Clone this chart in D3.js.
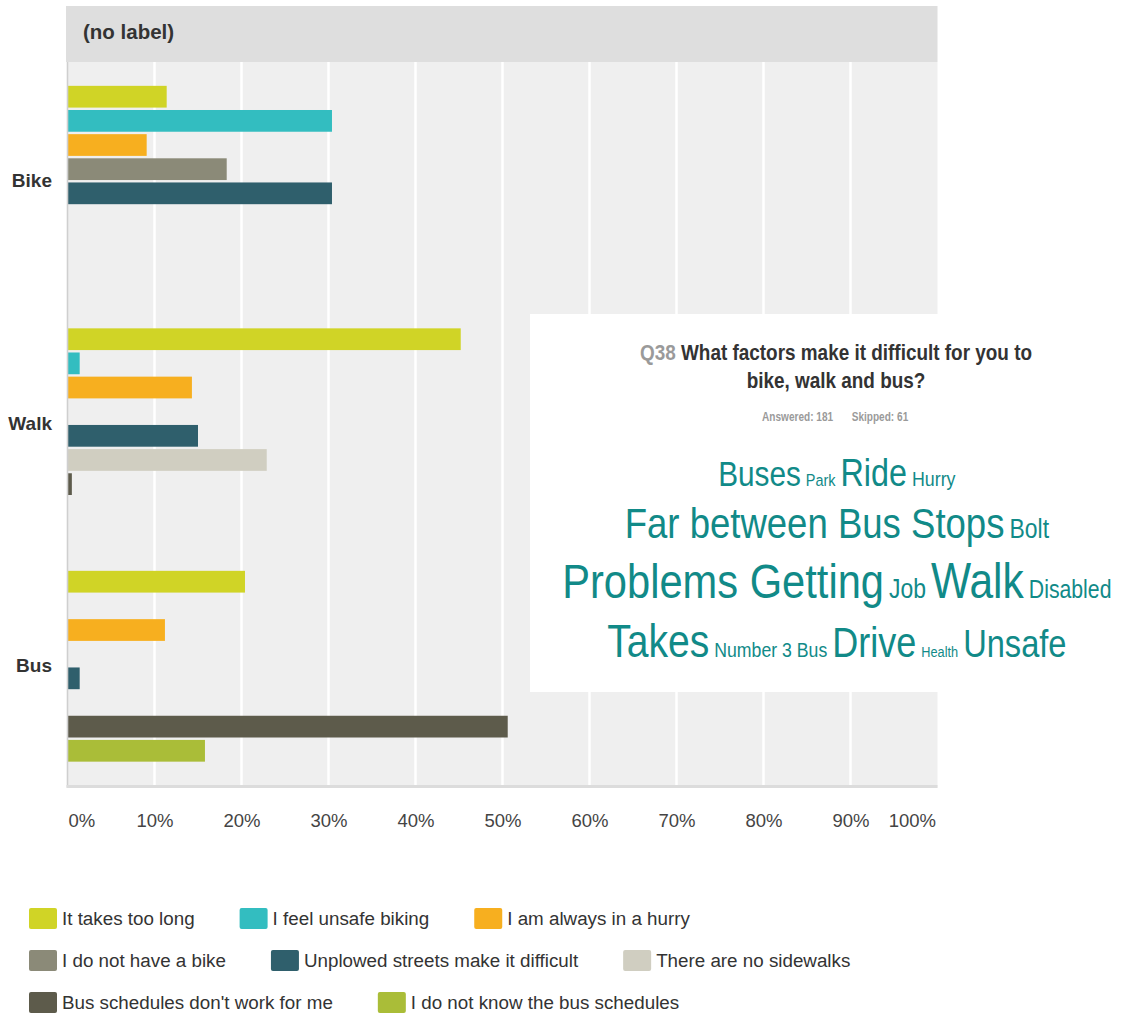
<!DOCTYPE html>
<html><head><meta charset="utf-8">
<script src="https://cdn.jsdelivr.net/npm/d3@7"></script>
<style>
body{margin:0;background:#fff}
svg{display:block}
text{font-family:'Liberation Sans',Arial,Helvetica,sans-serif}
</style>
</head><body>
<svg id="chart" width="1134" height="1018"></svg>
<script>
// ---------- data ----------
const categories = ["Bike", "Walk", "Bus"];
const seriesNames = [
  "It takes too long",
  "I feel unsafe biking",
  "I am always in a hurry",
  "I do not have a bike",
  "Unplowed streets make it difficult",
  "There are no sidewalks",
  "Bus schedules don't work for me",
  "I do not know the bus schedules"
];
const seriesColors = ["#d0d426", "#33bdc0", "#f7af1f", "#8b8a78", "#2f5f6c", "#d0cec1", "#5d5b4b", "#aabd38"];
const bikeValues = [11.4, 30.4, 9.1, 18.3, 30.4, 0, 0, 0];
const walkValues = [45.2, 1.4, 14.3, 0, 15.0, 22.9, 0.5, 0];
const busValues  = [20.4, 0, 11.2, 0, 1.4, 0, 50.6, 15.8];
const xTickValues = [0, 10, 20, 30, 40, 50, 60, 70, 80, 90, 100];
const xTickLabels = ["0%", "10%", "20%", "30%", "40%", "50%", "60%", "70%", "80%", "90%", "100%"];
const headerLabel = "(no label)";
const questionNumber = "Q38";
const questionLines = ["What factors make it difficult for you to", "bike, walk and bus?"];
const answeredCount = 181;
const skippedCount = 61;
const cloudRow1 = [["Buses", 6.25], ["Park", 1.75], ["Ride", 7], ["Hurry", 2.75]];
const cloudRow2 = [["Far between Bus Stops", 8.25], ["Bolt", 4.25]];
const cloudRow3 = [["Problems Getting", 9.75], ["Job", 4.25], ["Walk", 10], ["Disabled", 3.75]];
const cloudRow4 = [["Takes", 9.0], ["Number 3 Bus", 2.7], ["Drive", 8.1], ["Health", 1.25], ["Unsafe", 7.1]];

const valuesByCategory = {Bike: bikeValues, Walk: walkValues, Bus: busValues};

// ---------- layout ----------
const svg = d3.select("#chart");

const x = d3.scaleLinear().domain([0, 100]).range([67.5, 937.5]);
const y = d3.scaleBand().domain(categories).range([60, 787.5]);
const ySub = d3.scaleBand().domain(seriesNames).range([0, y.bandwidth()])
  .paddingInner(0.1).paddingOuter(1.07);
const color = d3.scaleOrdinal().domain(seriesNames).range(seriesColors);

const plotTop = 62, plotBottom = 787.5;

// header band
svg.append("rect").attr("x", 66).attr("y", 6).attr("width", x(100) - 66).attr("height", plotTop - 6)
  .attr("fill", "#dedede");
svg.append("text").attr("x", 83).attr("y", 39).text(headerLabel)
  .attr("font-weight", "bold").attr("font-size", 20.5).attr("fill", "#333");

// plot background
svg.append("rect").attr("x", x(0)).attr("y", plotTop).attr("width", x(100) - x(0))
  .attr("height", plotBottom - plotTop).attr("fill", "#efefef");

// gridlines
svg.append("g").selectAll("line").data(xTickValues.filter(v => v > 0 && v < 100)).join("line")
  .attr("x1", d => x(d)).attr("x2", d => x(d))
  .attr("y1", plotTop).attr("y2", plotBottom)
  .attr("stroke", "#fff").attr("stroke-width", 2.5);

// bars
const groups = svg.append("g").selectAll("g").data(categories).join("g")
  .attr("transform", d => `translate(0,${y(d)})`);
groups.selectAll("rect")
  .data(c => seriesNames.map((s, i) => ({s, v: valuesByCategory[c][i]})).filter(d => d.v > 0))
  .join("rect")
  .attr("x", x(0))
  .attr("y", d => ySub(d.s))
  .attr("width", d => x(d.v) - x(0))
  .attr("height", ySub.bandwidth())
  .attr("fill", d => color(d.s));

// left axis line & bottom line
svg.append("line").attr("x1", x(0)).attr("x2", x(0)).attr("y1", plotTop).attr("y2", plotBottom)
  .attr("stroke", "#cfcfcf").attr("stroke-width", 1.6);
svg.append("rect").attr("x", x(0) - 1).attr("y", 785).attr("width", x(100) - x(0) + 1).attr("height", 3)
  .attr("fill", "#dcdcdc");

// x axis labels
const xAxis = svg.append("g").attr("transform", "translate(0,786)")
  .call(d3.axisBottom(x).tickValues(xTickValues).tickFormat((d, i) => xTickLabels[i]).tickSize(0).tickPadding(27.7));
xAxis.select(".domain").remove();
xAxis.selectAll("text").attr("font-size", 18.5).attr("fill", "#444")
  .style("font-family", "'Liberation Sans',Arial,sans-serif");
xAxis.selectAll(".tick").filter(d => d === 0).select("text").attr("text-anchor", "start").attr("x", 0.5);
xAxis.selectAll(".tick").filter(d => d === 100).select("text").attr("text-anchor", "end").attr("x", -2);

// y axis labels
const yAxis = svg.append("g").attr("transform", `translate(${x(0)},0)`)
  .call(d3.axisLeft(y).tickSize(0).tickPadding(15.5));
yAxis.select(".domain").remove();
yAxis.selectAll("text").attr("font-size", 19).attr("font-weight", "bold").attr("fill", "#333")
  .style("font-family", "'Liberation Sans',Arial,sans-serif");

// ---------- word cloud panel ----------
const panel = svg.append("g");
panel.append("rect").attr("x", 530).attr("y", 314).attr("width", 1134 - 530).attr("height", 378).attr("fill", "#fff");
const cx = 836;
// condensed look: horizontal squeeze around the panel centre
const squeeze = k => `translate(${cx},0) scale(${k},1) translate(${-cx},0)`;

const titleG = panel.append("g").attr("transform", squeeze(0.88));
const t1 = titleG.append("text").attr("x", cx).attr("y", 360).attr("text-anchor", "middle")
  .attr("font-weight", "bold").attr("font-size", 21.5);
t1.append("tspan").attr("fill", "#9a9a9a").text(questionNumber + " ");
t1.append("tspan").attr("fill", "#333").text(questionLines[0]);
titleG.append("text").attr("x", cx).attr("y", 388).attr("text-anchor", "middle")
  .attr("font-weight", "bold").attr("font-size", 21.5).attr("fill", "#333")
  .text(questionLines[1]);
const t3 = panel.append("g").attr("transform", squeeze(0.84)).append("text")
  .attr("x", cx - 1).attr("y", 421).attr("text-anchor", "middle")
  .attr("font-weight", "bold").attr("font-size", 12).attr("fill", "#9a9a9a");
t3.append("tspan").text("Answered: " + answeredCount);
t3.append("tspan").attr("dx", 22).text("Skipped: " + skippedCount);

const sizeScale = d3.scaleLinear().domain([0, 10]).range([10, 50]);
const cloudRows = [cloudRow1, cloudRow2, cloudRow3, cloudRow4];
const rowBaselines = [486, 538, 598, 657];
const cloudColor = "#118a88";
const cloudK = 0.85;
const cloudG = panel.append("g").attr("transform", squeeze(cloudK));
cloudRows.forEach((row, ri) => {
  const g = cloudG.append("g");
  const texts = row.map(([w, wt]) => g.append("text").text(w)
    .attr("font-size", sizeScale(wt)).attr("fill", cloudColor)
    .attr("y", rowBaselines[ri]));
  const widths = texts.map(t => t.node().getComputedTextLength());
  const gap = 5 / cloudK;
  const total = d3.sum(widths) + gap * (widths.length - 1);
  let cur = cx + 1 - total / 2;
  texts.forEach((t, i) => { t.attr("x", cur); cur += widths[i] + gap; });
});

// ---------- legend ----------
const legendRows = [seriesNames.slice(0, 3), seriesNames.slice(3, 6), seriesNames.slice(6)];
const legendCenters = [918.5, 960.5, 1002.5];
const legend = svg.append("g");
legendRows.forEach((row, ri) => {
  let cur = 29;
  row.forEach(name => {
    legend.append("rect").attr("x", cur).attr("y", legendCenters[ri] - 10.5).attr("width", 28).attr("height", 21)
      .attr("rx", 2).attr("fill", color(name));
    const t = legend.append("text").attr("x", cur + 33).attr("y", legendCenters[ri] + 6.5)
      .attr("font-size", 18.8).attr("fill", "#333").text(name);
    cur += 33 + t.node().getComputedTextLength() + 45;
  });
});
</script>
</body></html>
